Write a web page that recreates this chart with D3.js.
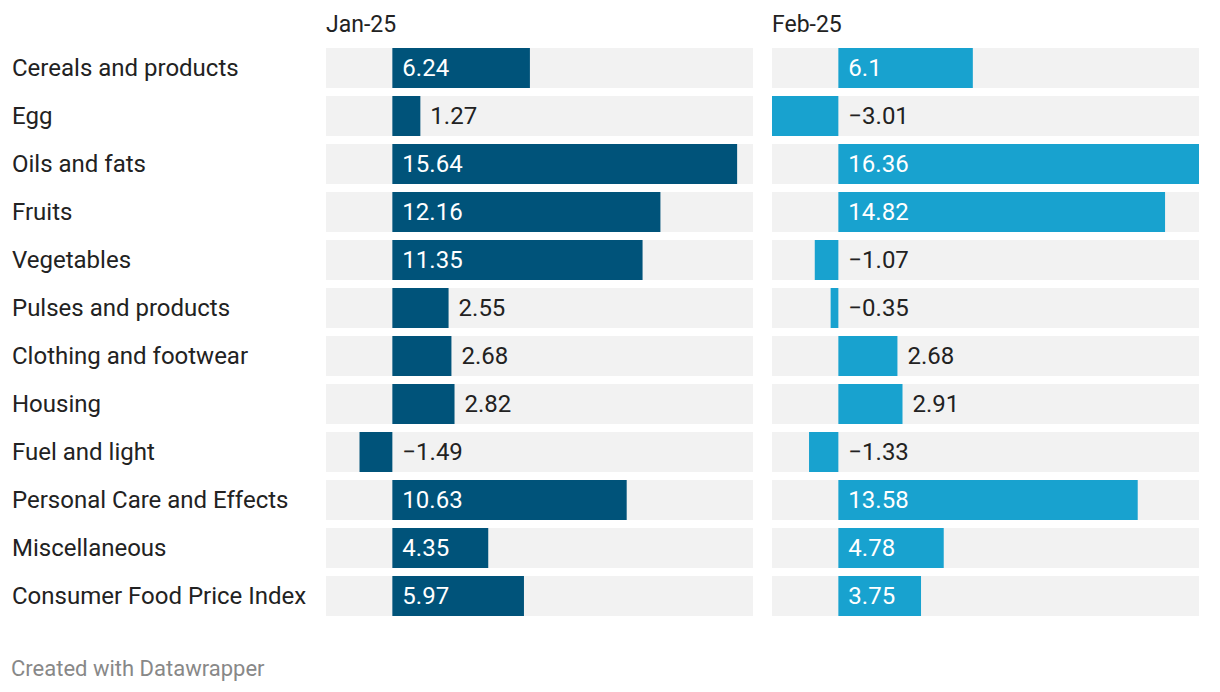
<!DOCTYPE html>
<html>
<head>
<meta charset="utf-8">
<script src="https://cdn.jsdelivr.net/npm/d3@7"></script>
<style>
  body { margin: 0; background: #fff; font-family: Roboto, sans-serif; }
  text { font-family: Roboto, sans-serif; }
</style>
</head>
<body>
<div id="chart"></div>
<script>
var categories = ["Cereals and products", "Egg", "Oils and fats", "Fruits", "Vegetables",
  "Pulses and products", "Clothing and footwear", "Housing", "Fuel and light",
  "Personal Care and Effects", "Miscellaneous", "Consumer Food Price Index"],
  columns = ["Jan-25", "Feb-25"],
  jan = [6.24, 1.27, 15.64, 12.16, 11.35, 2.55, 2.68, 2.82, -1.49, 10.63, 4.35, 5.97],
  feb = [6.1, -3.01, 16.36, 14.82, -1.07, -0.35, 2.68, 2.91, -1.33, 13.58, 4.78, 3.75],
  colors = ["#00537a", "#18a2cf"];

var W = 1220, H = 692,
  chartTop = 48, rowStep = 48, gap = 8,
  panelX = [326, 772], panelW = 427,
  series = [jan, feb];

var svg = d3.select("#chart").append("svg")
  .attr("width", W).attr("height", H);

var all = jan.concat(feb);
var x = d3.scaleLinear()
  .domain([d3.min(all), d3.max(all)])
  .range([0, panelW]);

var y = d3.scaleBand()
  .domain(d3.range(categories.length))
  .range([chartTop, chartTop + rowStep * categories.length - gap])
  .paddingInner(gap / rowStep).paddingOuter(0);

// row labels
svg.selectAll(".rowLabel")
  .data(categories).enter().append("text")
  .attr("class", "rowLabel")
  .attr("x", 12)
  .attr("y", function(d, i){ return y(i) + y.bandwidth() / 2; })
  .attr("dy", "0.35em")
  .style("font-size", "24px")
  .style("fill", "#222")
  .text(function(d){ return d; });

series.forEach(function(vals, s){
  var g = svg.append("g").attr("transform", "translate(" + panelX[s] + ",0)");

  g.append("text")
    .attr("x", 0).attr("y", 32)
    .style("font-size", "23px")
    .style("fill", "#222")
    .text(columns[s]);

  g.selectAll(".bg")
    .data(vals).enter().append("rect")
    .attr("x", 0)
    .attr("y", function(d, i){ return y(i); })
    .attr("width", panelW)
    .attr("height", y.bandwidth())
    .style("fill", "#f2f2f2");

  g.selectAll(".bar")
    .data(vals).enter().append("rect")
    .attr("x", function(d){ return x(Math.min(0, d)); })
    .attr("y", function(d, i){ return y(i); })
    .attr("width", function(d){ return Math.abs(x(d) - x(0)); })
    .attr("height", y.bandwidth())
    .style("fill", colors[s]);

  g.selectAll(".val")
    .data(vals).enter().append("text")
    .attr("y", function(d, i){ return y(i) + y.bandwidth() / 2; })
    .attr("dy", "0.35em")
    .style("font-size", "24px")
    .text(function(d){ return d < 0 ? "\u2212" + Math.abs(d) : d; })
    .each(function(d){
      var t = d3.select(this),
        tw = this.getComputedTextLength(),
        bw = Math.abs(x(d) - x(0));
      if (d > 0 && bw > tw + 24) {
        t.attr("x", x(0) + 10).style("fill", "#fff");
      } else {
        t.attr("x", Math.max(x(0), x(d)) + 10).style("fill", "#222");
      }
    });
});

svg.append("text")
  .attr("x", 11).attr("y", 676)
  .style("font-size", "22px")
  .style("fill", "#888")
  .text("Created with Datawrapper");
</script>
</body>
</html>
